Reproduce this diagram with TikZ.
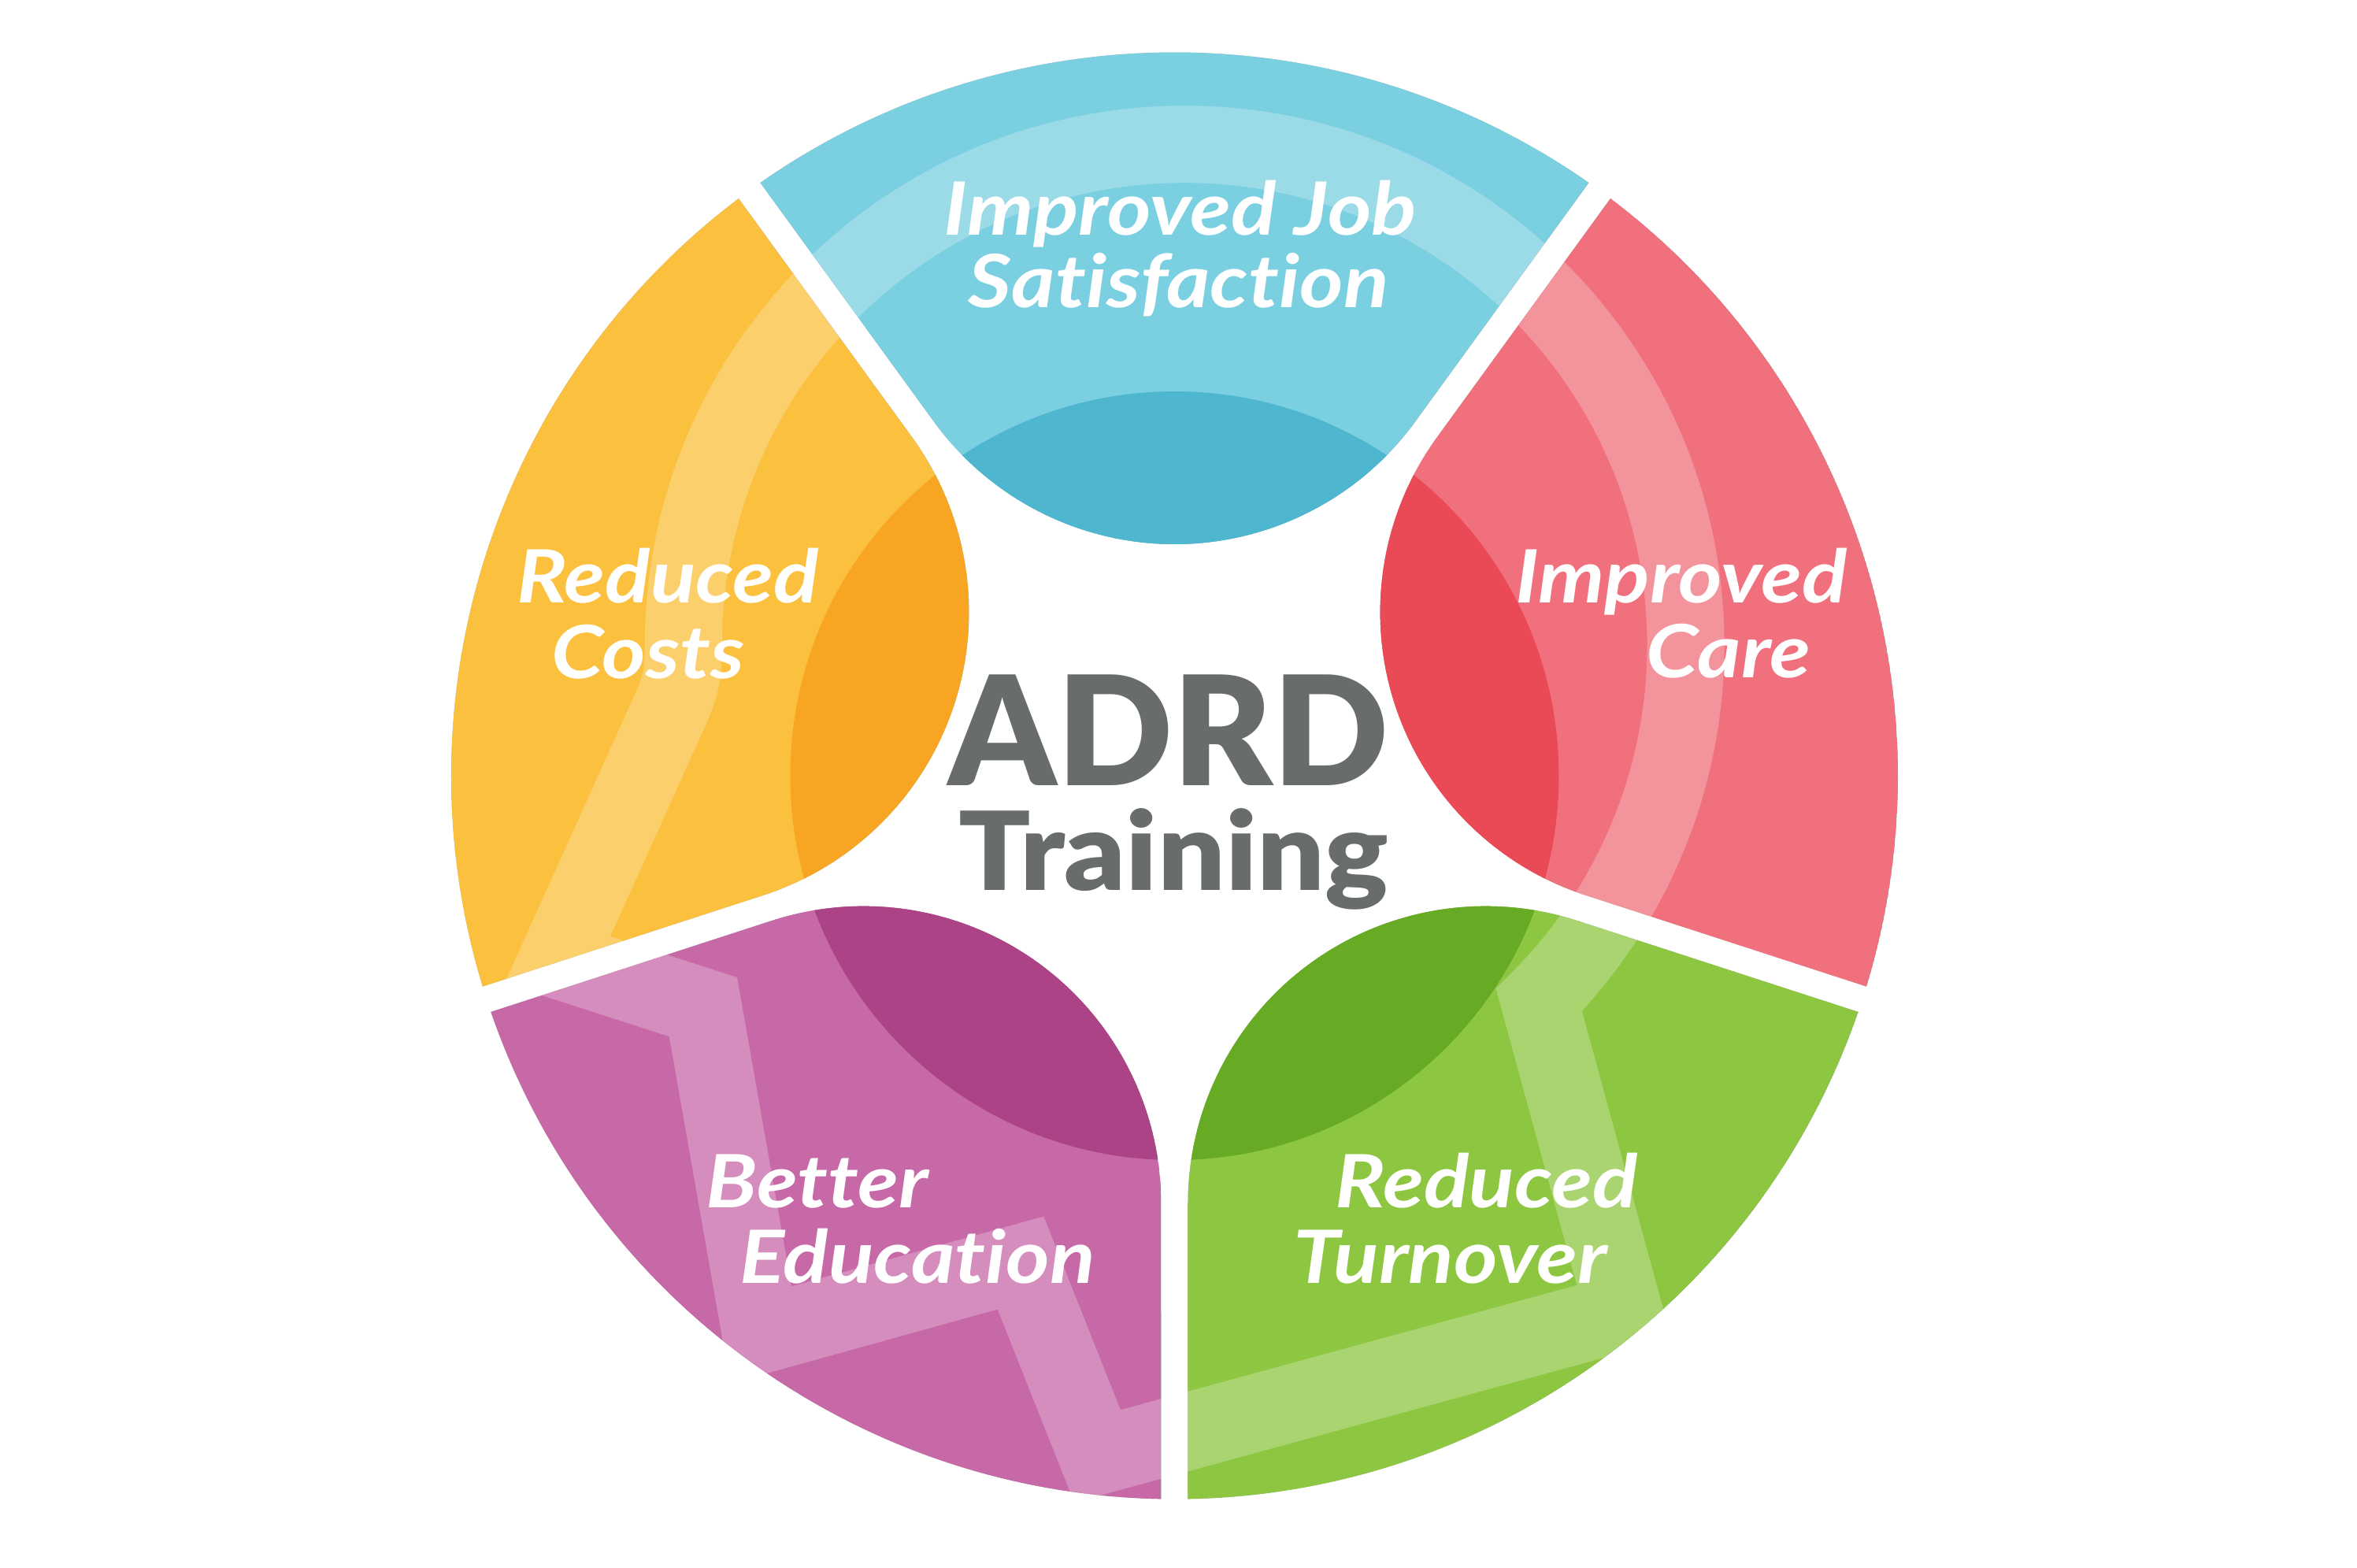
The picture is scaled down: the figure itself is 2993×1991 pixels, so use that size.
\documentclass[tikz,border=0pt]{standalone}
\usepackage{fontspec}
\newfontfamily\labfont{Lato}[Ligatures={NoCommon}]
\IfFontExistsTF{Lato Black}{\newfontfamily\titfont{Lato Black}}{\newfontfamily\titfont{Lato}[UprightFeatures={FakeBold=1.5}]}
\usetikzlibrary{calc}
\definecolor{blueB}{HTML}{7ACFE1}
\definecolor{blueD}{HTML}{4FB6CF}
\definecolor{yelB}{HTML}{FBC03D}
\definecolor{yelD}{HTML}{F9A524}
\definecolor{redB}{HTML}{F0717D}
\definecolor{redD}{HTML}{E94A56}
\definecolor{grnB}{HTML}{8DC641}
\definecolor{grnD}{HTML}{67AB24}
\definecolor{purB}{HTML}{C768A7}
\definecolor{purD}{HTML}{AC4387}
\definecolor{titgray}{HTML}{686D6C}
% petal outline, #1 = axis angle (y axis points down)
\newcommand\petal[1]{($(C)+({#1-34.94}:918.5)$) arc[start angle={#1-34.94}, end angle={#1+34.94}, radius=918.5] -- ($(C)+(#1:28.9)+({#1+36}:520.3)$) arc[start angle={#1+126}, end angle={#1+234}, radius=378] -- cycle}
\newcommand\bandpath{(707.8,1218.8) -- (850.5,902.5) .. controls (862.8,875.2) and (867.8,860) .. (867.8,819.6) arc[start angle=180, end angle=405, radius=636.4] -- (2062.5,1666.2) -- (1393.5,1849) -- (1296,1603.5) -- (966.2,1695.1) -- (892.9,1278.6) -- cycle}
\tikzset{
  band/.style={draw=white, draw opacity=0.25, line width=13.95pt, line join=miter},
  lab/.style={text=white, font=\labfont\bfseries\itshape\fontsize{13.3}{13.3}\selectfont, anchor=base, inner sep=0pt, xscale=1.14},
  tit/.style={text=titgray, anchor=base, inner sep=0pt},
  shad/.style={fill=black, fill opacity=0.06}
}
\begin{document}
\begin{tikzpicture}[x=0.005cm, y=-0.005cm]
\useasboundingbox (0,0) rectangle (2993,1991);
\coordinate (C) at (1491.5,985);
% shadows
\foreach \a in {-90,-18,54,126,198}{
  \foreach \s in {2,4,6,8,10,12}{
    \fill[shad, shift={(\s,1.5*\s)}] \petal{\a};
  }
}
% petals
\foreach \a/\cb/\cd in {-90/blueB/blueD, -18/redB/redD, 54/grnB/grnD, 126/purB/purD, 198/yelB/yelD}{
  \begin{scope}
    \clip \petal{\a};
    \fill[\cb] \petal{\a};
    \fill[\cd] (C) circle[radius=488];
    \path[band] \bandpath;
  \end{scope}
}
% labels
\node[lab] (j1) at (1498.8,298) {Improved Job};
\node[lab] (j2) at (1496.5,390.8) {Satisfaction};
\node[lab] (c1) at (848,765.7) {Reduced};
\node[lab] (c2) at (823,861) {Costs};
\node[lab] (q1) at (2135,765.7) {Improved};
\node[lab] (q2) at (2195,860.8) {Care};
\node[lab] (e1) at (1037.6,1533.4) {Better};
\node[lab] (e2) at (1165,1629.2) {Education};
\node[lab] (t1) at (1887.5,1533.4) {Reduced};
\node[lab] (t2) at (1841.5,1629.2) {Turnover};
% title
\node[tit, font=\titfont\fontsize{27.5}{27.5}\selectfont, text depth=0pt] (adrd) at (1484,997.6) {ADRD};
\node[tit, font=\titfont\fontsize{19.7}{19.7}\selectfont, text height=14.5pt, xscale=1.09] (trn) at (1490,1130) {Training};
\end{tikzpicture}
\end{document}
